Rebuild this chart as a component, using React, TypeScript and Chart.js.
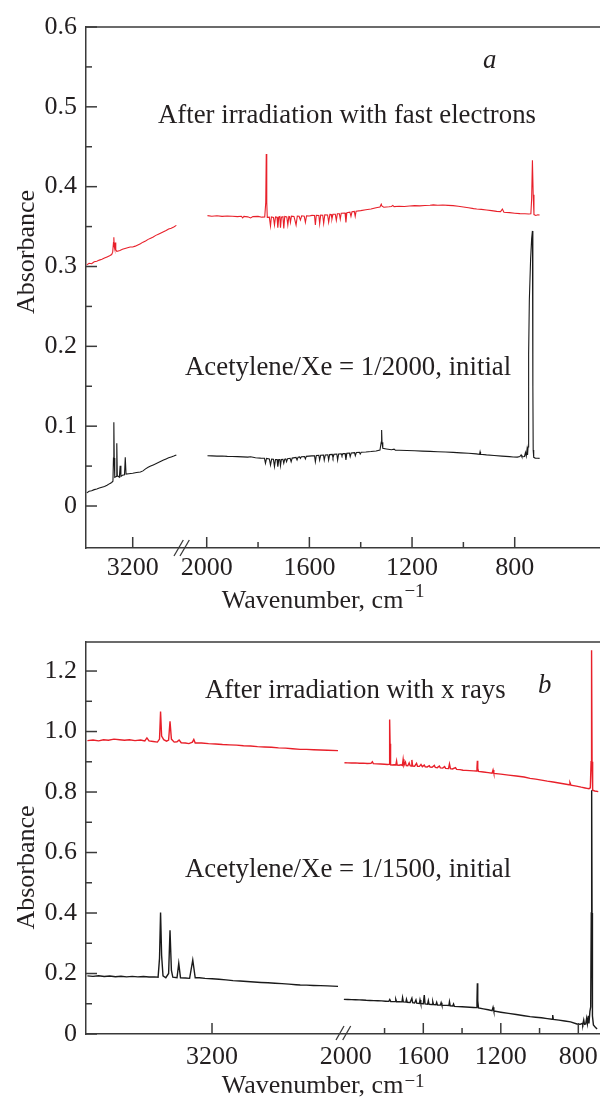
import React, { useEffect, useRef } from "react";
import { Chart, registerables } from "chart.js";

Chart.register(...registerables);

type Pt = [number, number]; // [wavenumber cm^-1, absorbance]

// ---------------- Panel a (fast electrons) ----------------
const aInitialHigh: Pt[] = [
  [3379, 0.0165], [3370, 0.0185], [3360, 0.019], [3350, 0.0205], [3340, 0.0212], [3330, 0.0225],
  [3320, 0.0235], [3310, 0.0245], [3300, 0.026], [3290, 0.028], [3282, 0.0295], [3277, 0.031],
  [3275, 0.06], [3273.5, 0.1048], [3272, 0.06], [3270, 0.036], [3264, 0.037], [3262, 0.0785],
  [3260, 0.038], [3252, 0.036], [3249, 0.0505], [3246, 0.037], [3240, 0.0385], [3232, 0.039],
  [3229, 0.061], [3226, 0.04], [3215, 0.0405], [3200, 0.041], [3185, 0.042], [3170, 0.0425],
  [3160, 0.044], [3150, 0.0465], [3140, 0.0485], [3130, 0.05], [3120, 0.0515], [3110, 0.053],
  [3100, 0.0545], [3090, 0.056], [3080, 0.0575], [3070, 0.059], [3060, 0.0605], [3050, 0.0615],
  [3040, 0.0625], [3030, 0.064],
];
const aInitialLow: Pt[] = [
  [1997, 0.063], [1980, 0.0628], [1960, 0.0625], [1940, 0.0627], [1920, 0.0622], [1900, 0.062],
  [1880, 0.0618], [1860, 0.0615], [1840, 0.0612], [1829, 0.0617], [1810, 0.0605], [1790, 0.06],
  [1775, 0.0598], [1771, 0.0535], [1767, 0.0596], [1756, 0.059], [1751.5, 0.0514], [1747, 0.0588],
  [1740, 0.0585], [1736, 0.0493], [1732, 0.0583], [1726, 0.0582], [1723, 0.0493], [1719, 0.0582],
  [1715, 0.0582], [1712.6, 0.0505], [1709, 0.0583], [1703, 0.0585], [1699.7, 0.0535], [1696, 0.0586],
  [1692, 0.059], [1689, 0.0555], [1685, 0.0592], [1675, 0.0598], [1671, 0.0555], [1667, 0.06],
  [1652, 0.0608], [1648, 0.0576], [1644, 0.0612], [1638, 0.0615], [1635, 0.0597], [1631, 0.0617],
  [1619, 0.062], [1615.5, 0.059], [1612, 0.0622], [1590, 0.0628], [1580, 0.063], [1576.7, 0.0555],
  [1573, 0.0632], [1563, 0.0634], [1560, 0.0576], [1556, 0.0636], [1545, 0.0638], [1542, 0.0576],
  [1538, 0.064], [1528, 0.0642], [1525, 0.0576], [1521, 0.0644], [1511, 0.0646], [1508, 0.0605],
  [1504, 0.0648], [1493, 0.065], [1490, 0.0576], [1486, 0.0652], [1476, 0.0654], [1473, 0.063],
  [1469, 0.0656], [1461, 0.0658], [1457.6, 0.0576], [1454, 0.066], [1444, 0.0662], [1441, 0.0618],
  [1437, 0.0664], [1424, 0.0668], [1421, 0.063], [1417, 0.067], [1405, 0.0672], [1402, 0.065],
  [1398, 0.0674], [1380, 0.0676], [1360, 0.0682], [1340, 0.069], [1325, 0.07], [1320, 0.08],
  [1318.5, 0.0952], [1317, 0.08], [1314, 0.0723], [1300, 0.0715], [1280, 0.0705], [1270, 0.0712],
  [1265, 0.07], [1250, 0.0698], [1220, 0.0695], [1190, 0.0692], [1160, 0.0688], [1130, 0.0684],
  [1100, 0.068], [1070, 0.0676], [1040, 0.0672], [1010, 0.0666], [980, 0.066], [950, 0.0653],
  [937, 0.0648], [935, 0.068], [933, 0.0648], [910, 0.064], [880, 0.0632], [850, 0.0625],
  [820, 0.0618], [806, 0.0614], [790, 0.0612], [780, 0.062], [775, 0.064], [772, 0.0615],
  [762, 0.062], [758, 0.067], [755, 0.0625], [752, 0.071], [750, 0.064], [748, 0.074],
  [746.5, 0.11], [745, 0.19], [743, 0.258], [738, 0.31], [734, 0.335], [731, 0.3446],
  [729.5, 0.3], [729, 0.15], [728, 0.07], [726, 0.061], [720, 0.06], [710, 0.0598], [703, 0.0597],
];
const aIrradiatedHigh: Pt[] = [
  [3379, 0.302], [3370, 0.304], [3360, 0.3035], [3350, 0.306], [3340, 0.3065], [3330, 0.308],
  [3320, 0.309], [3310, 0.3105], [3300, 0.312], [3290, 0.3135], [3282, 0.315], [3278, 0.318],
  [3275, 0.33], [3273.5, 0.3366], [3272, 0.325], [3270, 0.322], [3268, 0.33], [3266, 0.321],
  [3262, 0.319], [3256, 0.3195], [3250, 0.32], [3240, 0.3215], [3230, 0.3225], [3220, 0.3235],
  [3210, 0.3245], [3200, 0.3245], [3190, 0.3255], [3180, 0.327], [3170, 0.3285], [3160, 0.3305],
  [3150, 0.332], [3140, 0.334], [3130, 0.3355], [3120, 0.337], [3110, 0.339], [3100, 0.3405],
  [3090, 0.342], [3080, 0.3435], [3070, 0.345], [3060, 0.347], [3050, 0.348], [3040, 0.3495],
  [3030, 0.3515],
];
const aIrradiatedLow: Pt[] = [
  [1997, 0.3637], [1980, 0.363], [1960, 0.3635], [1940, 0.3628], [1920, 0.3632], [1900, 0.363],
  [1880, 0.3625], [1865, 0.363], [1860, 0.361], [1855, 0.3628], [1840, 0.3622], [1829, 0.3608],
  [1820, 0.3625], [1800, 0.3628], [1785, 0.3618], [1774, 0.362], [1770, 0.38], [1768, 0.441],
  [1766, 0.38], [1764, 0.3615], [1756, 0.3618], [1751.5, 0.3507], [1748, 0.362], [1740, 0.3615],
  [1736, 0.352], [1732, 0.3622], [1726, 0.3618], [1723, 0.3486], [1719, 0.362], [1715, 0.3625],
  [1712.6, 0.3486], [1709, 0.3618], [1703, 0.3624], [1699.7, 0.3478], [1696, 0.3626], [1688, 0.362],
  [1684, 0.352], [1680, 0.3628], [1677, 0.3625], [1673.8, 0.3553], [1670, 0.363], [1660, 0.3627],
  [1651.8, 0.352], [1647, 0.3632], [1640, 0.363], [1635, 0.3582], [1630, 0.3635], [1620, 0.363],
  [1615.5, 0.3553], [1611, 0.3636], [1600, 0.3633], [1590, 0.364], [1580, 0.3638], [1576.7, 0.352],
  [1573, 0.3642], [1563, 0.364], [1559.9, 0.3536], [1556, 0.3645], [1548, 0.3642], [1544.3, 0.354],
  [1540, 0.3648], [1529, 0.3645], [1524.9, 0.3553], [1520, 0.3652], [1515, 0.365], [1512, 0.3595],
  [1508, 0.3655], [1499, 0.3655], [1495, 0.3578], [1491, 0.366], [1483, 0.366], [1479.6, 0.3595],
  [1476, 0.3668], [1461, 0.367], [1457.6, 0.3553], [1454, 0.3675], [1442, 0.368], [1438, 0.3628],
  [1434, 0.3685], [1425, 0.369], [1421.4, 0.3628], [1418, 0.3693], [1400, 0.37], [1380, 0.371],
  [1360, 0.372], [1340, 0.3735], [1325, 0.3745], [1320, 0.378], [1317, 0.3755], [1310, 0.3742],
  [1290, 0.3748], [1280, 0.3752], [1275, 0.3765], [1270, 0.375], [1250, 0.3755], [1230, 0.3752],
  [1210, 0.3758], [1190, 0.3762], [1170, 0.376], [1150, 0.3765], [1130, 0.3768], [1117, 0.3772],
  [1100, 0.3768], [1080, 0.377], [1060, 0.3766], [1040, 0.3763], [1020, 0.3755], [1000, 0.3745],
  [980, 0.3735], [960, 0.3725], [948, 0.372], [930, 0.3715], [910, 0.3708], [890, 0.37],
  [870, 0.369], [855, 0.3688], [848, 0.372], [842, 0.368], [820, 0.3675], [800, 0.3668],
  [780, 0.3662], [760, 0.366], [745, 0.3658], [737, 0.366], [734, 0.385], [731, 0.433],
  [728, 0.39], [725, 0.365], [718, 0.364], [710, 0.3648], [703, 0.3645],
];

// ---------------- Panel b (x rays) ----------------
const bInitialHigh: Pt[] = [
  [3378, 0.192], [3370, 0.1905], [3362, 0.1925], [3354, 0.19], [3346, 0.1915], [3338, 0.1895],
  [3330, 0.191], [3322, 0.189], [3314, 0.1905], [3306, 0.1888], [3298, 0.19], [3290, 0.1885],
  [3282, 0.189], [3277, 0.188], [3275, 0.25], [3273.5, 0.402], [3272, 0.26], [3270, 0.192],
  [3266, 0.186], [3262, 0.2], [3260, 0.343], [3258, 0.21], [3256, 0.188], [3250, 0.186],
  [3247.5, 0.2336], [3245, 0.186], [3238, 0.185], [3232, 0.184], [3227.5, 0.2446], [3224, 0.186],
  [3218, 0.186], [3210, 0.184], [3200, 0.1825], [3190, 0.181], [3180, 0.179], [3170, 0.1765],
  [3160, 0.175], [3150, 0.1735], [3140, 0.172], [3130, 0.1705], [3120, 0.1692], [3110, 0.1678],
  [3100, 0.1665], [3090, 0.165], [3080, 0.163], [3074, 0.162], [3065, 0.1615], [3055, 0.1605],
  [3045, 0.1598], [3035, 0.159], [3020, 0.1576],
];
const bInitialLow: Pt[] = [
  [2010, 0.1146], [1990, 0.114], [1970, 0.1135], [1950, 0.1132], [1930, 0.1128], [1915, 0.1124],
  [1895, 0.1115], [1875, 0.111], [1855, 0.1105], [1835, 0.11], [1815, 0.1095], [1795, 0.1085],
  [1778, 0.1078], [1773, 0.114], [1768, 0.1075], [1755, 0.1072], [1746, 0.107], [1742, 0.1146],
  [1738, 0.1068], [1725, 0.1065], [1710, 0.1062], [1707, 0.1201], [1703, 0.106], [1690, 0.1055],
  [1687, 0.1146], [1683, 0.105], [1668, 0.104], [1659, 0.118], [1655, 0.1035], [1645, 0.1025],
  [1638, 0.1124], [1634, 0.1018], [1620, 0.1012], [1617, 0.1124], [1613, 0.1008], [1600, 0.1],
  [1595, 0.1289], [1591, 0.0995], [1578, 0.0985], [1574, 0.1102], [1570, 0.0982], [1555, 0.0975],
  [1551, 0.1069], [1547, 0.097], [1535, 0.0965], [1531, 0.1047], [1527, 0.096], [1512, 0.0955],
  [1508, 0.1036], [1504, 0.095], [1480, 0.0945], [1468, 0.094], [1465, 0.1069], [1461, 0.093],
  [1448, 0.0925], [1444, 0.0992], [1440, 0.0915], [1420, 0.0905], [1400, 0.09], [1380, 0.0892],
  [1360, 0.0885], [1340, 0.0878], [1326, 0.0871], [1323, 0.11], [1321, 0.1675], [1319, 0.11],
  [1315, 0.086], [1290, 0.083], [1265, 0.08], [1245, 0.077], [1240, 0.0882], [1236, 0.076],
  [1200, 0.072], [1160, 0.068], [1120, 0.0645], [1080, 0.0605], [1049, 0.0573], [1020, 0.0555],
  [990, 0.0535], [960, 0.051], [935, 0.049], [932, 0.0628], [929, 0.0485], [900, 0.046],
  [870, 0.043], [840, 0.04], [807, 0.0331], [790, 0.032], [780, 0.035], [777, 0.031],
  [772, 0.0463], [768, 0.032], [762, 0.033], [757, 0.0518], [753, 0.034], [748, 0.06],
  [745, 0.035], [740, 0.075], [736, 0.09], [733, 0.4], [731, 0.806], [729, 0.4], [727, 0.06],
  [722, 0.03], [712, 0.022], [703, 0.0165],
];
const bIrradiatedHigh: Pt[] = [
  [3378, 0.97], [3370, 0.972], [3362, 0.969], [3355, 0.973], [3348, 0.971], [3340, 0.975],
  [3332, 0.973], [3325, 0.971], [3318, 0.973], [3310, 0.97], [3302, 0.972], [3296, 0.969],
  [3293, 0.979], [3290, 0.969], [3284, 0.967], [3278, 0.965], [3275, 0.975], [3273.5, 1.066],
  [3272, 0.985], [3269, 0.973], [3265, 0.968], [3262, 0.972], [3260, 1.034], [3258, 0.975],
  [3254, 0.965], [3250, 0.966], [3247, 0.972], [3244, 0.963], [3238, 0.962], [3233, 0.96],
  [3228, 0.965], [3226, 0.974], [3224, 0.962], [3215, 0.962], [3205, 0.96], [3195, 0.959],
  [3185, 0.957], [3175, 0.956], [3165, 0.955], [3155, 0.953], [3145, 0.952], [3135, 0.95],
  [3125, 0.949], [3115, 0.948], [3105, 0.946], [3095, 0.945], [3085, 0.943], [3074, 0.941],
  [3065, 0.941], [3055, 0.94], [3045, 0.939], [3035, 0.938], [3020, 0.937],
];
const bIrradiatedLow: Pt[] = [
  [2007, 0.897], [1990, 0.8965], [1970, 0.8958], [1950, 0.8962], [1930, 0.895], [1910, 0.8955],
  [1890, 0.8945], [1870, 0.8948], [1863, 0.9], [1858, 0.894], [1840, 0.893], [1820, 0.8925],
  [1800, 0.892], [1785, 0.8912], [1776, 0.8915], [1774.5, 0.96], [1773, 1.04], [1771.5, 0.96],
  [1769, 0.89], [1760, 0.8895], [1750, 0.89], [1742, 0.8893], [1738, 0.9025], [1735, 0.889],
  [1725, 0.8885], [1715, 0.89], [1708, 0.888], [1704, 0.908], [1700, 0.8878], [1692, 0.899],
  [1688, 0.8875], [1680, 0.887], [1673, 0.8965], [1668, 0.8868], [1663, 0.886], [1659, 0.906],
  [1655, 0.886], [1645, 0.8855], [1635, 0.895], [1630, 0.885], [1620, 0.8848], [1612, 0.891],
  [1605, 0.884], [1595, 0.889], [1590, 0.8835], [1580, 0.883], [1569, 0.887], [1565, 0.8825],
  [1555, 0.882], [1543, 0.888], [1538, 0.8812], [1528, 0.8805], [1517, 0.886], [1512, 0.8798],
  [1500, 0.879], [1490, 0.884], [1485, 0.8782], [1470, 0.8775], [1465, 0.893], [1460, 0.877],
  [1450, 0.8762], [1434, 0.881], [1428, 0.875], [1410, 0.874], [1395, 0.872], [1380, 0.8715],
  [1360, 0.8708], [1340, 0.87], [1326, 0.8695], [1323, 0.88], [1321, 0.9036], [1319, 0.878],
  [1315, 0.868], [1290, 0.866], [1265, 0.864], [1245, 0.8625], [1240, 0.8728], [1236, 0.8618],
  [1200, 0.859], [1160, 0.856], [1120, 0.853], [1080, 0.8495], [1049, 0.8452], [1020, 0.8425],
  [990, 0.8395], [960, 0.836], [930, 0.833], [900, 0.83], [870, 0.8265], [848, 0.824],
  [843, 0.831], [838, 0.823], [810, 0.8195], [785, 0.816], [765, 0.8135], [755, 0.8122],
  [745, 0.811], [738, 0.814], [734, 0.9], [731.5, 1.269], [729, 0.9], [726, 0.806],
  [715, 0.8035], [697, 0.8012],
];

// ---------------- Axis ticks ----------------
const aYMajor = [0, 0.1, 0.2, 0.3, 0.4, 0.5, 0.6];
const aYLabels = ["0", "0.1", "0.2", "0.3", "0.4", "0.5", "0.6"];
const aYMinor = [0.05, 0.15, 0.25, 0.35, 0.45, 0.55];
const bYMajor = [0, 0.2, 0.4, 0.6, 0.8, 1.0, 1.2];
const bYLabels = ["0", "0.2", "0.4", "0.6", "0.8", "1.0", "1.2"];
const bYMinor = [0.1, 0.3, 0.5, 0.7, 0.9, 1.1];
const xMajor = [3200, 2000, 1600, 1200, 800];
const xLabels = ["3200", "2000", "1600", "1200", "800"];
const xMinor = [1800, 1400, 1000];
const aXMarks = [3200, 2000, 1600, 1200, 800];
const bXMarks = [3200, 1600, 1200, 800];

const FONT = '"Liberation Serif", "Times New Roman", serif';
const INK = "#231f20";
const AXIS = "#3a3a3a";
const RED = "#e8202a";
const BLACK = "#1a1a1a";
const NOTE_SIZE = 26.8;

type Panel = {
  height: number;
  padTop: number;
  axisH: number;
  xPad: number;
  yMin: number;
  yMax: number;
  yMajor: number[];
  yLabels: string[];
  yMinor: number[];
  xMin: number;
  xMax: number;
  toAxis: (w: number) => number;
  xMarks: number[];
  lineW: number;
  series: { pts: Pt[]; color: string }[];
  texts: { s: string; x: number; y: number; italic?: boolean }[];
  breaks: number[][];
  yTitle: { x: number; y: number };
  xTitle: { x: number; y: number; supY: number };
};

const panelA: Panel = {
  height: 620,
  padTop: 27,
  axisH: 72,
  xPad: 5,
  yMin: -0.0526,
  yMax: 0.6,
  yMajor: aYMajor,
  yLabels: aYLabels,
  yMinor: aYMinor,
  xMin: 467.7,
  xMax: 2470.3,
  toAxis: (w) => (w > 2500 ? w - 911.7 : w),
  xMarks: aXMarks,
  lineW: 1.1,
  series: [
    { pts: aInitialHigh, color: BLACK },
    { pts: aInitialLow, color: BLACK },
    { pts: aIrradiatedHigh, color: RED },
    { pts: aIrradiatedLow, color: RED },
  ],
  texts: [
    { s: "a", x: 483, y: 68, italic: true },
    { s: "After irradiation with fast electrons", x: 158, y: 123 },
    { s: "Acetylene/Xe = 1/2000, initial", x: 185, y: 375 },
  ],
  breaks: [
    [174, 556, 183.3, 540],
    [180, 556, 189.3, 540],
  ],
  yTitle: { x: 34, y: 252 },
  xTitle: { x: 221.7, y: 608, supY: 597 },
};

const panelB: Panel = {
  height: 482,
  padTop: 22,
  axisH: 68,
  xPad: 8,
  yMin: 0,
  yMax: 1.296,
  yMajor: bYMajor,
  yLabels: bYLabels,
  yMinor: bYMinor,
  xMin: 688,
  xMax: 3341,
  toAxis: (w) => (w > 2500 ? 2690.6 + (w - 3200) * 3.6129 : w),
  xMarks: bXMarks,
  lineW: 1.4,
  series: [
    { pts: bInitialHigh, color: BLACK },
    { pts: bInitialLow, color: BLACK },
    { pts: bIrradiatedHigh, color: RED },
    { pts: bIrradiatedLow, color: RED },
  ],
  texts: [
    { s: "b", x: 538, y: 73.3, italic: true },
    { s: "After irradiation with x rays", x: 205, y: 78.3 },
    { s: "Acetylene/Xe = 1/1500, initial", x: 185, y: 257 },
  ],
  breaks: [
    [336, 420, 344, 406],
    [342.7, 420, 350.7, 406],
  ],
  yTitle: { x: 34, y: 247.5 },
  xTitle: { x: 221.7, y: 473.3, supY: 467 },
};

function decor(p: Panel) {
  return {
    id: "decor",
    afterDraw(chart: any) {
      const ctx: CanvasRenderingContext2D = chart.ctx;
      const { left, right, top, bottom } = chart.chartArea;
      const xs = chart.scales.x;
      const ys = chart.scales.y;
      ctx.save();
      ctx.strokeStyle = AXIS;
      ctx.lineWidth = 1.5;
      const line = (x1: number, y1: number, x2: number, y2: number) => {
        ctx.beginPath();
        ctx.moveTo(x1, y1);
        ctx.lineTo(x2, y2);
        ctx.stroke();
      };
      line(left, top, right, top);
      p.yMajor.forEach((v) => {
        const py = ys.getPixelForValue(v);
        line(left, py, left + 11, py);
      });
      p.yMinor.forEach((v) => {
        const py = ys.getPixelForValue(v);
        line(left, py, left + 6, py);
      });
      p.xMarks.forEach((w) => {
        const px = xs.getPixelForValue(p.toAxis(w));
        line(px, bottom, px, bottom - 11);
      });
      xMinor.forEach((w) => {
        const px = xs.getPixelForValue(p.toAxis(w));
        line(px, bottom, px, bottom - 6);
      });
      ctx.lineWidth = 1.3;
      p.breaks.forEach((b) => line(b[0], b[1], b[2], b[3]));

      ctx.fillStyle = INK;
      ctx.textBaseline = "alphabetic";
      ctx.textAlign = "left";
      p.texts.forEach((t) => {
        ctx.font = `${t.italic ? "italic " : ""}${NOTE_SIZE}px ${FONT}`;
        ctx.fillText(t.s, t.x, t.y);
      });
      // x title
      ctx.font = `26px ${FONT}`;
      const main = "Wavenumber, cm";
      ctx.fillText(main, p.xTitle.x, p.xTitle.y);
      const w = ctx.measureText(main).width;
      ctx.font = `19px ${FONT}`;
      ctx.fillText("\u22121", p.xTitle.x + w + 1, p.xTitle.supY);
      // y title
      ctx.font = `26px ${FONT}`;
      ctx.translate(p.yTitle.x, p.yTitle.y);
      ctx.rotate(-Math.PI / 2);
      ctx.textAlign = "center";
      ctx.fillText("Absorbance", 0, 0);
      ctx.restore();
    },
  };
}

function PanelChart({ p, top }: { p: Panel; top: number }) {
  const ref = useRef<HTMLCanvasElement>(null);
  useEffect(() => {
    const canvas = ref.current;
    if (!canvas) return;
    const chart = new Chart(canvas, {
      type: "line",
      data: {
        datasets: p.series.map((s) => ({
          data: s.pts.map(([w, a]) => ({ x: p.toAxis(w), y: a })),
          borderColor: s.color,
          borderWidth: p.lineW,
          pointRadius: 0,
          tension: 0,
          fill: false,
        })),
      },
      options: {
        animation: false,
        responsive: false,
        devicePixelRatio: 1,
        events: [],
        layout: { padding: { top: p.padTop, left: 0, right: 0, bottom: 0 } },
        plugins: { legend: { display: false }, tooltip: { enabled: false } },
        scales: {
          x: {
            type: "linear",
            reverse: true,
            min: p.xMin,
            max: p.xMax,
            afterBuildTicks: (s: any) => {
              s.ticks = xMajor.map((w) => ({ value: p.toAxis(w) }));
            },
            afterFit: (s: any) => {
              s.height = p.axisH;
              s.paddingLeft = 0;
              s.paddingRight = 0;
            },
            grid: { display: false, drawTicks: false },
            border: { display: true, color: AXIS, width: 1.5 },
            ticks: {
              autoSkip: false,
              maxRotation: 0,
              color: INK,
              padding: p.xPad,
              font: { family: FONT, size: 26 },
              callback: (_v: any, i: number) => xLabels[i],
            },
          },
          y: {
            type: "linear",
            min: p.yMin,
            max: p.yMax,
            afterBuildTicks: (s: any) => {
              s.ticks = p.yMajor.map((v) => ({ value: v }));
            },
            afterFit: (s: any) => {
              s.width = 86;
              s.paddingTop = 0;
              s.paddingBottom = 0;
            },
            grid: { display: false, drawTicks: false },
            border: { display: true, color: AXIS, width: 1.5 },
            ticks: {
              autoSkip: false,
              color: INK,
              padding: 9,
              font: { family: FONT, size: 26 },
              callback: (_v: any, i: number) => p.yLabels[i],
            },
          },
        },
      },
      plugins: [decor(p)],
    } as any);
    return () => chart.destroy();
  }, [p]);
  return (
    <canvas
      ref={ref}
      width={600}
      height={p.height}
      style={{ position: "absolute", left: 0, top, width: 600, height: p.height, display: "block" }}
    />
  );
}

export default function App() {
  return (
    <div style={{ position: "absolute", left: 0, top: 0, width: 600, height: 1102, background: "#fff" }}>
      <PanelChart p={panelA} top={0} />
      <PanelChart p={panelB} top={620} />
    </div>
  );
}
